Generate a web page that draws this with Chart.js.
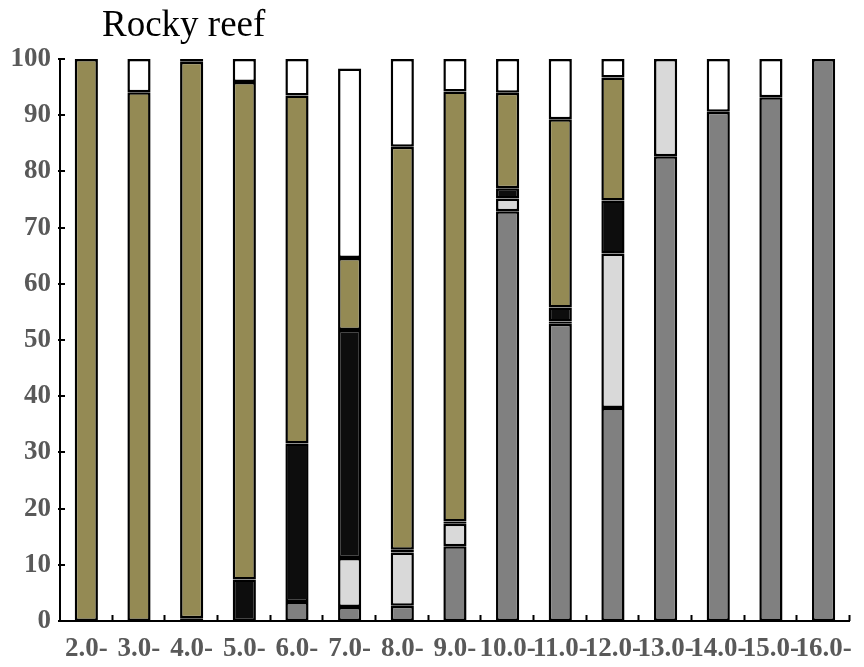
<!DOCTYPE html>
<html>
<head>
<meta charset="utf-8">
<title>Rocky reef</title>
<script src="https://cdn.jsdelivr.net/npm/chart.js@4/dist/chart.umd.min.js"></script>
<style>
  html, body { margin: 0; padding: 0; background: #ffffff; }
  #wrap { width: 864px; height: 667px; }
</style>
</head>
<body>
<div id="wrap"><canvas id="chart" width="864" height="667"></canvas></div>
<script>
// Size classes (cm) along the x axis
const categories = ['2.0-', '3.0-', '4.0-', '5.0-', '6.0-', '7.0-', '8.0-', '9.0-',
                    '10.0-', '11.0-', '12.0-', '13.0-', '14.0-', '15.0-', '16.0-'];

// Percentage composition per size class, stacked from the bottom up
const groupGray      = [0, 0, 0, 0, 3.4, 2.5, 2.7, 13.3, 72.9, 52.9, 37.9, 82.7, 90.6, 93.2, 100];
const groupLightGray = [0, 0, 0, 0, 0, 8.7, 9.5, 4.0, 2.3, 0.4, 27.5, 17.3, 0, 0, 0];
const groupBlack     = [0, 0, 0.5, 7.4, 28.2, 40.6, 0.5, 0.4, 1.8, 2.5, 9.4, 0, 0, 0, 0];
const groupOlive     = [100, 94.1, 99.0, 88.5, 61.9, 12.8, 71.7, 76.5, 17.0, 33.5, 21.9, 0, 0, 0, 0];
const groupWhite     = [0, 5.9, 0.5, 4.1, 6.5, 33.7, 15.6, 5.8, 6.0, 10.7, 3.3, 0, 9.4, 6.8, 0];

const yTicks = [0, 10, 20, 30, 40, 50, 60, 70, 80, 90, 100];
const titleText = 'Rocky reef';

const serif = '"Liberation Serif", "Times New Roman", serif';

// zero-height segments are left out so they leave no stray border
const seg = arr => arr.map(v => (v === 0 ? null : v));

function series(label, data, color) {
  return {
    label,
    data: seg(data),
    backgroundColor: color,
    borderColor: '#000000',
    borderWidth: 2.5,
    borderSkipped: false,
    inflateAmount: 0,
    barPercentage: 0.44,
    categoryPercentage: 1.0,
    stack: 'all'
  };
}

// Inward tick marks on both axes plus the chart heading
const axisDecor = {
  id: 'axisDecor',
  afterDraw(chart) {
    const { ctx, chartArea } = chart;
    const xs = chart.scales.x;
    const ys = chart.scales.y;
    ctx.save();
    ctx.strokeStyle = '#000000';
    ctx.lineWidth = 2;
    ctx.beginPath();
    yTicks.forEach(v => {
      const y = Math.round(ys.getPixelForValue(v));
      ctx.moveTo(chartArea.left - 2, y);
      ctx.lineTo(chartArea.left + 5, y);
    });
    const n = categories.length;
    const w = (xs.right - xs.left) / n;
    for (let i = 1; i <= n; i++) {
      const x = Math.round(xs.left + i * w) - 0.5;
      ctx.moveTo(x, chartArea.bottom);
      ctx.lineTo(x, chartArea.bottom - 6);
    }
    ctx.stroke();

    ctx.fillStyle = '#000000';
    ctx.font = '37px ' + serif;
    ctx.textAlign = 'left';
    ctx.textBaseline = 'alphabetic';
    ctx.fillText(titleText, chartArea.left + 42, 36);
    ctx.restore();
  }
};

new Chart(document.getElementById('chart'), {
  type: 'bar',
  data: {
    labels: categories,
    datasets: [
      series('Group A', groupGray, '#808080'),
      series('Group B', groupLightGray, '#d9d9d9'),
      series('Group C', groupBlack, '#0d0d0d'),
      series('Group D', groupOlive, '#948a54'),
      series('Group E', groupWhite, '#ffffff')
    ]
  },
  options: {
    responsive: false,
    animation: false,
    layout: { padding: { top: 59, right: 9, left: 0, bottom: 0 } },
    plugins: {
      legend: { display: false },
      title: { display: false },
      tooltip: { enabled: false }
    },
    scales: {
      x: {
        stacked: true,
        grid: { display: false, drawTicks: false },
        border: { display: true, color: '#000000', width: 2 },
        ticks: {
          autoSkip: false,
          maxRotation: 0,
          minRotation: 0,
          padding: 12,
          color: '#595959',
          font: { family: serif, size: 27, weight: 'bold' }
        },
        afterFit(scale) { scale.height = 46; }
      },
      y: {
        stacked: true,
        min: 0,
        max: 100,
        afterBuildTicks(scale) { scale.ticks = yTicks.map(v => ({ value: v })); },
        grid: { display: false, drawTicks: false },
        border: { display: true, color: '#000000', width: 2 },
        ticks: {
          padding: 9,
          color: '#595959',
          font: { family: serif, size: 27, weight: 'bold' }
        },
        afterFit(scale) { scale.width = 60; }
      }
    }
  },
  plugins: [axisDecor]
});
</script>
</body>
</html>
